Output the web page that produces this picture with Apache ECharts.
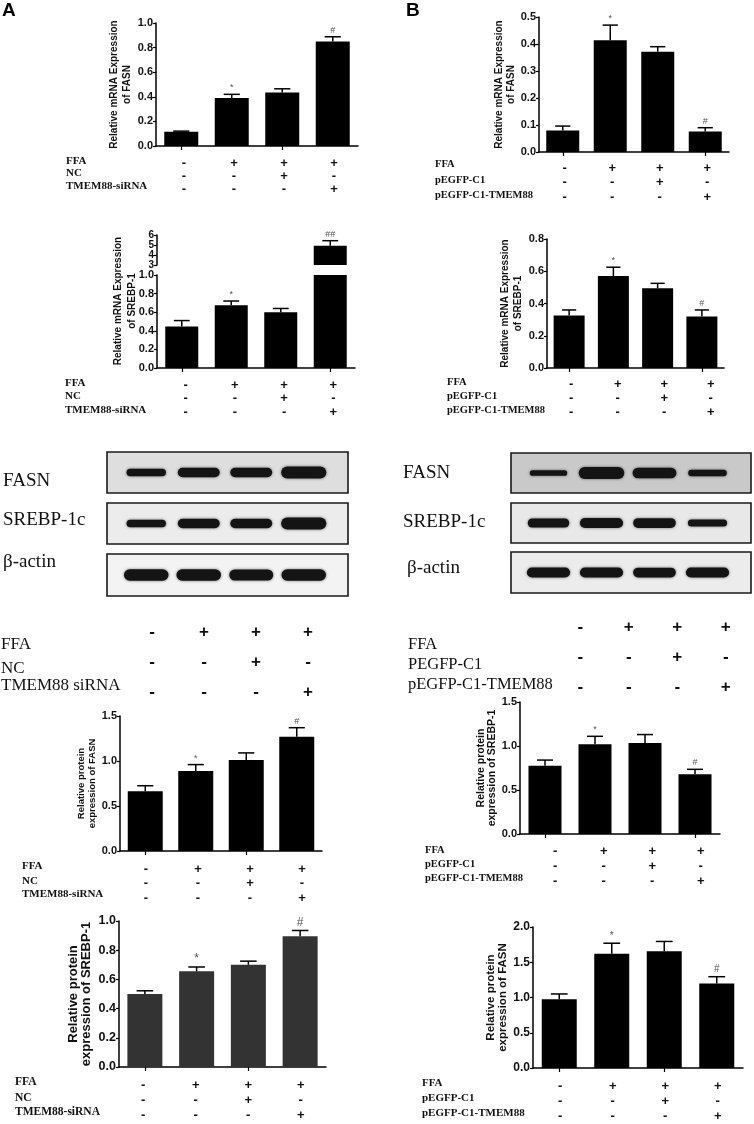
<!DOCTYPE html>
<html><head><meta charset="utf-8">
<script src="https://cdn.jsdelivr.net/npm/echarts@6/dist/echarts.min.js"></script>
<style>html,body{margin:0;padding:0;background:#fff}#c{width:754px;height:1124px}</style>
</head><body><div id="c"></div>
<script>
// ---------- data ----------
const groups = ['Control', 'FFA', 'FFA+vector', 'FFA+TMEM88'];
const ffaRow = ['-', '+', '+', '+'];
const vectorRow = ['-', '-', '+', '-'];
const tmemRow = ['-', '-', '-', '+'];
const labelsA = ['FFA', 'NC', 'TMEM88-siRNA'];
const labelsABlot = ['FFA', 'NC', 'TMEM88 siRNA'];
const labelsB = ['FFA', 'pEGFP-C1', 'pEGFP-C1-TMEM88'];
const labelsBBlot = ['FFA', 'PEGFP-C1', 'pEGFP-C1-TMEM88'];

// Panel A
const aMrnaFasn = [0.115, 0.39, 0.435, 0.85];
const aMrnaFasnSd = [0.006, 0.03, 0.03, 0.038];
const aMrnaFasnSig = ['', '*', '', '#'];
const aMrnaSrebp = [0.445, 0.675, 0.6, 4.93];
const aMrnaSrebpSd = [0.065, 0.045, 0.04, 0.5];
const aMrnaSrebpSig = ['', '*', '', '##'];
const aProtFasn = [0.665, 0.89, 1.01, 1.27];
const aProtFasnSd = [0.06, 0.07, 0.08, 0.1];
const aProtFasnSig = ['', '*', '', '#'];
const aProtSrebp = [0.5, 0.655, 0.7, 0.895];
const aProtSrebpSd = [0.022, 0.03, 0.025, 0.04];
const aProtSrebpSig = ['', '*', '', '#'];
// Panel B
const bMrnaFasn = [0.08, 0.414, 0.371, 0.076];
const bMrnaFasnSd = [0.016, 0.056, 0.019, 0.014];
const bMrnaFasnSig = ['', '*', '', '#'];
const bMrnaSrebp = [0.325, 0.57, 0.495, 0.32];
const bMrnaSrebpSd = [0.035, 0.055, 0.03, 0.04];
const bMrnaSrebpSig = ['', '*', '', '#'];
const bProtSrebp = [0.775, 1.02, 1.035, 0.68];
const bProtSrebpSd = [0.065, 0.09, 0.095, 0.055];
const bProtSrebpSig = ['', '*', '', '#'];
const bProtFasn = [0.975, 1.62, 1.655, 1.2];
const bProtFasnSd = [0.075, 0.15, 0.14, 0.095];
const bProtFasnSig = ['', '*', '', '#'];
// Western blot band densities (relative)
const aBlotFasn = [0.5, 0.72, 0.72, 1.0];
const aBlotSrebp = [0.5, 0.72, 0.72, 1.0];
const aBlotActin = [0.95, 0.95, 0.9, 0.95];
const bBlotFasn = [0.3, 1.0, 0.85, 0.4];
const bBlotSrebp = [0.65, 0.8, 0.75, 0.45];
const bBlotActin = [0.8, 0.8, 0.75, 0.8];

// ---------- builders ----------
const SANS = 'Liberation Sans, Arial, sans-serif';
const SERIF = 'Liberation Serif, Times New Roman, serif';
const option = { animation: false, backgroundColor: '#fff', grid: [], xAxis: [], yAxis: [], series: [], graphic: [] };

function addGrid(rect, xCfg, yCfg) {
  const gi = option.grid.length;
  option.grid.push(Object.assign({ containLabel: false }, rect));
  option.xAxis.push(Object.assign({ gridIndex: gi, type: 'category', data: groups }, xCfg));
  option.yAxis.push(Object.assign({ gridIndex: gi }, yCfg));
  return gi;
}

function makeErr(c) {
  return function (params, api) {
    const i = params.dataIndex;
    const v = api.value(1), sd = api.value(2);
    if (v + sd > c.max || v < c.min) return null;
    const base = api.coord([i, v]);
    const top = api.coord([i, v + sd]);
    const half = api.size([1, 0])[0] * 0.16;
    const children = [
      { type: 'line', shape: { x1: base[0], y1: base[1], x2: top[0], y2: top[1] }, style: { stroke: '#000', lineWidth: 1.5 } },
      { type: 'line', shape: { x1: top[0] - half, y1: top[1], x2: top[0] + half, y2: top[1] }, style: { stroke: '#000', lineWidth: 1.5 } }
    ];
    const s = c.sig[i];
    if (s) children.push({ type: 'text', x: top[0], y: top[1] - 2, style: { text: s, fill: '#555', font: 'normal ' + (c.sigFont || 9) + 'px ' + SANS, align: 'center', verticalAlign: 'bottom' } });
    return { type: 'group', children: children };
  };
}

function barChart(c) {
  const gi = addGrid(c.rect, {
    axisLine: { show: !c.noX, lineStyle: { color: '#000', width: 1.5 } },
    axisTick: { show: !c.noX, alignWithLabel: true, length: 4, lineStyle: { color: '#000', width: 1.2 } },
    axisLabel: { show: false }
  }, {
    type: 'value', min: c.min, max: c.max, interval: c.interval,
    axisLine: { show: true, lineStyle: { color: '#000', width: 1.5 } },
    axisTick: { show: true, length: 3, lineStyle: { color: '#000', width: 1.2 } },
    axisLabel: { margin: 3, fontSize: c.tickFont, fontWeight: 'bold', fontFamily: SANS, color: '#111',
      showMinLabel: true, showMaxLabel: true, hideOverlap: false, lineHeight: c.tickLH || null,
      formatter: v => v.toFixed(c.digits == null ? 1 : c.digits) },
    splitLine: { show: false },
    name: c.name || '', nameLocation: 'middle', nameRotate: 90, nameGap: c.nameGap || 20,
    nameTextStyle: { fontSize: c.nameFont, fontWeight: 'bold', fontFamily: SANS, color: '#111', lineHeight: c.nameLH }
  });
  option.series.push({ type: 'bar', xAxisIndex: gi, yAxisIndex: gi, data: c.vals, barWidth: c.barWidth,
    itemStyle: { color: c.color || '#000' }, clip: true, silent: true });
  option.series.push({ type: 'custom', xAxisIndex: gi, yAxisIndex: gi, z: 3, silent: true,
    data: c.vals.map((v, i) => [i, v, c.sd[i]]), renderItem: makeErr(c) });
}

function anno(b) {
  addGrid({ left: b.left, width: b.width, top: b.row0 - b.rowH / 2 - 1, height: 1 }, {
    axisLine: { show: false }, axisTick: { show: false },
    axisLabel: { show: true, interval: 0, margin: 0, fontSize: b.sym, fontWeight: 'bold', fontFamily: SANS, color: '#111',
      lineHeight: b.rowH, formatter: (v, i) => [ffaRow[i], vectorRow[i], tmemRow[i]].join('\n') }
  }, { type: 'value', show: false });
  b.labels.forEach((t, k) => option.graphic.push({ type: 'text', x: b.x, y: b.ys[k],
    style: { text: t, fill: '#111', font: (b.weight || 'bold') + ' ' + b.font + 'px ' + SERIF, verticalAlign: 'middle' } }));
}

function blot(b) {
  option.graphic.push({ type: 'rect', z: -10, shape: { x: b.x, y: b.y, width: b.w, height: b.h },
    style: { fill: b.fill, stroke: '#1a1a1a', lineWidth: 1.6 } });
  const gi = addGrid({ left: b.bl, width: b.bw, top: b.y, height: b.h }, { show: false }, { type: 'value', min: 0, max: 1, show: false });
  option.series.push({ type: 'custom', xAxisIndex: gi, yAxisIndex: gi, silent: true,
    data: b.vals.map((v, i) => [i, v]),
    renderItem: (p, api) => {
      const c = api.coord([api.value(0), 0.5]);
      const band = api.size([1, 0])[0];
      const v = api.value(1);
      const w = band * (0.64 + 0.22 * v), h = 3 + 9 * v;
      return { type: 'rect', shape: { x: c[0] - w / 2, y: c[1] - h / 2, width: w, height: h, r: h / 2 },
        style: { fill: '#141414', shadowBlur: 3, shadowColor: 'rgba(0,0,0,0.55)' } };
    } });
  option.graphic.push({ type: 'text', x: b.lx, y: b.ly, style: { text: b.label, fill: '#111', font: 'normal 19px ' + SERIF, verticalAlign: 'middle' } });
}

// ---------- panel letters ----------
option.graphic.push({ type: 'text', x: 2, y: 11, style: { text: 'A', fill: '#000', font: 'bold 19px ' + SANS, verticalAlign: 'middle' } });
option.graphic.push({ type: 'text', x: 406, y: 11, style: { text: 'B', fill: '#000', font: 'bold 19px ' + SANS, verticalAlign: 'middle' } });

// ---------- Panel A mRNA FASN ----------
barChart({ rect: { left: 156, top: 23, width: 202, height: 123 }, min: 0, max: 1, interval: 0.2, vals: aMrnaFasn, sd: aMrnaFasnSd, sig: aMrnaFasnSig,
  barWidth: 34, tickFont: 11, name: 'Relative mRNA Expression\nof FASN', nameGap: 22, nameFont: 10, nameLH: 13 });
anno({ labels: labelsA, x: 66, ys: [161, 173, 186], font: 11, left: 159, width: 200, row0: 163, rowH: 13, sym: 13 });

// ---------- Panel B mRNA FASN ----------
barChart({ rect: { left: 539, top: 17, width: 190, height: 135 }, min: 0, max: 0.5, interval: 0.1, vals: bMrnaFasn, sd: bMrnaFasnSd, sig: bMrnaFasnSig,
  barWidth: 33, tickFont: 11, name: 'Relative mRNA Expression\nof FASN', nameGap: 21, nameFont: 10, nameLH: 12 });
anno({ labels: labelsB, x: 435, ys: [164, 180, 195], font: 10.5, left: 541, width: 190, row0: 168, rowH: 14.5, sym: 13 });

// ---------- Panel A mRNA SREBP-1 (broken axis) ----------
barChart({ rect: { left: 157, top: 275, width: 198, height: 93 }, min: 0, max: 1, interval: 0.2, vals: aMrnaSrebp, sd: aMrnaSrebpSd, sig: aMrnaSrebpSig,
  barWidth: 33, tickFont: 11 });
barChart({ rect: { left: 157, top: 235, width: 198, height: 30 }, min: 3, max: 6, interval: 1, digits: 0, vals: aMrnaSrebp, sd: aMrnaSrebpSd, sig: aMrnaSrebpSig,
  barWidth: 33, tickFont: 10, tickLH: 10, noX: true });
option.graphic.push({ type: 'text', x: 125, y: 301, rotation: Math.PI / 2,
  style: { text: 'Relative mRNA Expression\nof SREBP-1', fill: '#111', font: 'bold 10px ' + SANS, align: 'center', verticalAlign: 'middle', lineHeight: 14 } });
anno({ labels: labelsA, x: 65, ys: [383, 396, 410], font: 11, left: 161, width: 197, row0: 385, rowH: 13.5, sym: 13 });

// ---------- Panel B mRNA SREBP-1 ----------
barChart({ rect: { left: 547, top: 239, width: 177, height: 129 }, min: 0, max: 0.8, interval: 0.2, vals: bMrnaSrebp, sd: bMrnaSrebpSd, sig: bMrnaSrebpSig,
  barWidth: 31, tickFont: 11, name: 'Relative mRNA Expression\nof SREBP-1', nameGap: 19, nameFont: 10, nameLH: 13 });
anno({ labels: labelsB, x: 447, ys: [382, 396, 410], font: 10.5, left: 548, width: 186, row0: 384, rowH: 14, sym: 13 });

// ---------- Western blots ----------
blot({ x: 107, y: 452, w: 241, h: 41, fill: '#dedede', bl: 120, bw: 210, vals: aBlotFasn, label: 'FASN', lx: 3, ly: 481 });
blot({ x: 107, y: 503, w: 241, h: 41, fill: '#ececec', bl: 120, bw: 210, vals: aBlotSrebp, label: 'SREBP-1c', lx: 3, ly: 520 });
blot({ x: 107, y: 554, w: 241, h: 42, fill: '#f3f3f3', bl: 120, bw: 210, vals: aBlotActin, label: 'β-actin', lx: 3, ly: 562 });
blot({ x: 511, y: 453, w: 240, h: 40, fill: '#c9c9c9', bl: 522, bw: 212, vals: bBlotFasn, label: 'FASN', lx: 403, ly: 473 });
blot({ x: 511, y: 503, w: 240, h: 40, fill: '#e8e8e8', bl: 522, bw: 212, vals: bBlotSrebp, label: 'SREBP-1c', lx: 403, ly: 522 });
blot({ x: 511, y: 552, w: 240, h: 41, fill: '#ececec', bl: 522, bw: 212, vals: bBlotActin, label: 'β-actin', lx: 407, ly: 568 });

anno({ labels: labelsABlot, x: 1, ys: [645, 669, 686], font: 17, weight: 'normal', left: 126, width: 208, row0: 632, rowH: 30, sym: 17 });
anno({ labels: labelsBBlot, x: 408, ys: [645, 665, 685], font: 16.5, weight: 'normal', left: 556, width: 194, row0: 627, rowH: 30, sym: 17 });

// ---------- Panel A protein FASN ----------
barChart({ rect: { left: 120, top: 716, width: 202, height: 135 }, min: 0, max: 1.5, interval: 0.5, vals: aProtFasn, sd: aProtFasnSd, sig: aProtFasnSig,
  barWidth: 35, tickFont: 11, name: 'Relative protein\nexpression of FASN', nameGap: 21, nameFont: 9.5, nameLH: 11 });
anno({ labels: labelsA, x: 22, ys: [866, 881, 894], font: 11, left: 120, width: 208, row0: 869, rowH: 14.5, sym: 13 });

// ---------- Panel A protein SREBP-1 ----------
barChart({ rect: { left: 119, top: 921, width: 207, height: 146 }, min: 0, max: 1, interval: 0.2, vals: aProtSrebp, sd: aProtSrebpSd, sig: aProtSrebpSig,
  barWidth: 35, tickFont: 12.5, color: '#333', sigFont: 12, name: 'Relative protein\nexpression of SREBP-1', nameGap: 26, nameFont: 13, nameLH: 13 });
anno({ labels: labelsA, x: 15, ys: [1082, 1098, 1112], font: 11.5, left: 117, width: 210, row0: 1085, rowH: 15, sym: 13 });

// ---------- Panel B protein SREBP-1 ----------
barChart({ rect: { left: 520, top: 702, width: 200, height: 132 }, min: 0, max: 1.5, interval: 0.5, vals: bProtSrebp, sd: bProtSrebpSd, sig: bProtSrebpSig,
  barWidth: 33, tickFont: 11, name: 'Relative protein\nexpression of SREBP-1', nameGap: 14, nameFont: 10.5, nameLH: 11 });
anno({ labels: labelsB, x: 425, ys: [850, 864, 878], font: 10.5, left: 531, width: 194, row0: 851, rowH: 15, sym: 13 });

// ---------- Panel B protein FASN ----------
barChart({ rect: { left: 533, top: 927, width: 210, height: 141 }, min: 0, max: 2, interval: 0.5, vals: bProtFasn, sd: bProtFasnSd, sig: bProtFasnSig,
  barWidth: 35, tickFont: 12, sigFont: 10, name: 'Relative protein\nexpression of FASN', nameGap: 24, nameFont: 11.5, nameLH: 12 });
anno({ labels: labelsB, x: 422, ys: [1083, 1098, 1113], font: 11, left: 534, width: 210, row0: 1087, rowH: 15, sym: 13 });

const chart = echarts.init(document.getElementById('c'), null, { renderer: 'canvas' });
chart.setOption(option);
</script></body></html>
